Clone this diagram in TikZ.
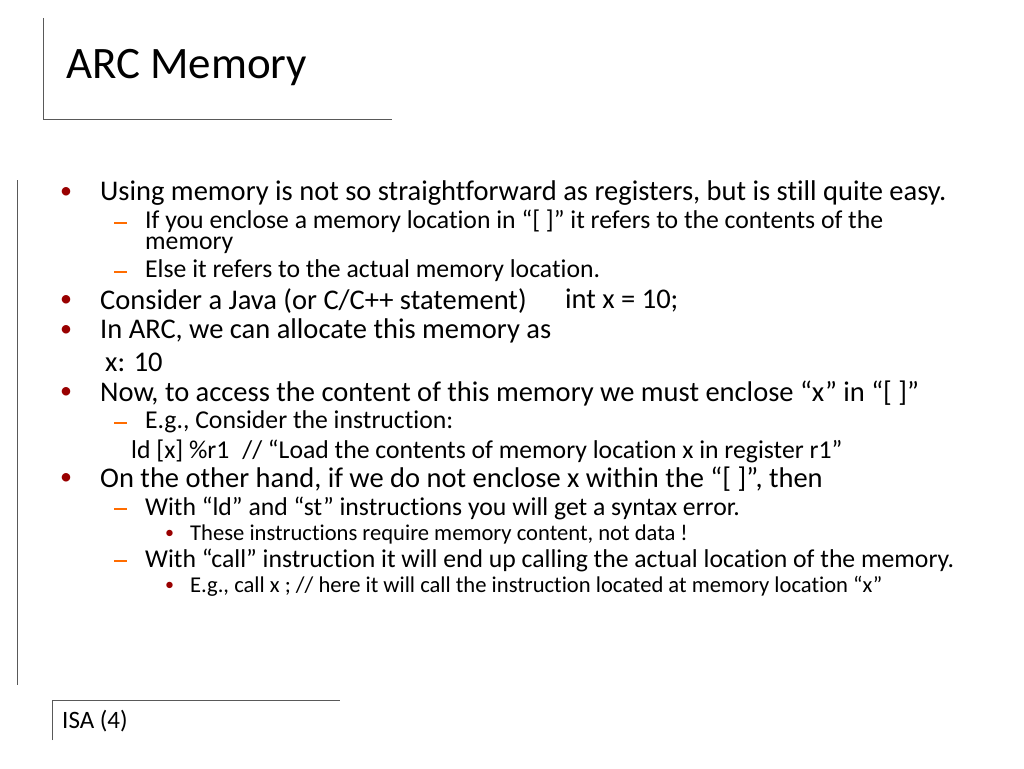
\documentclass[tikz,border=0pt]{standalone}
\usepackage{fontspec}
\setmainfont{Carlito}[Ligatures=NoCommon]
\begin{document}
\begin{tikzpicture}[x=1pt,y=-1pt,
  t/.style={anchor=west,inner sep=0pt},
  big/.style={t,font=\fontsize{28.5}{32}\selectfont},
  mid/.style={t,font=\fontsize{25.7}{26}\selectfont},
  sml/.style={t,font=\fontsize{22.6}{23}\selectfont},
  bul/.style={t,text=red!60!black},
  dsh/.style={draw=orange!85!red,line width=1.3pt},
  ln/.style={draw=black!65,line width=1pt}]
\useasboundingbox (0,0) rectangle (1024,768);
\draw[ln] (43,18) -- (43,119) -- (392,119);
\draw[ln] (17,180) -- (17,685);
\draw[ln] (52,740) -- (52,700) -- (340,700);
\node[t,font=\fontsize{45}{50}\selectfont] (title) at (66,68) {ARC Memory};
\node[t,font=\fontsize{25}{27}\selectfont] (foot) at (62,721) {ISA (4)};
% bullets
\foreach \y in {193,301,331,393,479} \node[bul,font=\fontsize{24}{26}\selectfont] at (60,\y) {•};
\foreach \y in {223,272,423,509,561} \draw[dsh] (114,\y) -- (127,\y);
\foreach \y in {534,586} \node[bul,font=\fontsize{18}{20}\selectfont] at (165,\y) {•};
\node[big] (a1) at (100,193) {Using memory is not so straightforward as registers, but is still quite easy.};
\node[mid] (a2) at (145,221) {If you enclose a memory location in “[ ]” it refers to the contents of the};
\node[mid] (a3) at (145,245) {memory};
\node[mid] (a4) at (145,271) {Else it refers to the actual memory location.};
\node[big] (b1) at (100,301) {Consider a Java (or C/C++ statement)};
\node[big] (b2) at (565,301) {int x = 10;};
\node[big] (c1) at (100,331) {In ARC, we can allocate this memory as};
\node[big] (c2) at (105,362) {x: 10};
\node[big] (d1) at (100,393) {Now, to access the content of this memory we must enclose “x” in “[ ]”};
\node[mid] (d2) at (145,422) {E.g., Consider the instruction:};
\node[mid] (d3) at (131,451) {ld [x] \%r1\enspace // “Load the contents of memory location x in register r1”};
\node[big] (e1) at (100,479) {On the other hand, if we do not enclose x within the “[ ]”, then};
\node[mid] (e2) at (145,508) {With “ld” and “st” instructions you will get a syntax error.};
\node[sml] (e3) at (190,534) {These instructions require memory content, not data !};
\node[mid] (e4) at (145,560) {With “call” instruction it will end up calling the actual location of the memory.};
\node[sml] (e5) at (190,586) {E.g., call x ; // here it will call the instruction located at memory location “x”};
\end{tikzpicture}
\end{document}
